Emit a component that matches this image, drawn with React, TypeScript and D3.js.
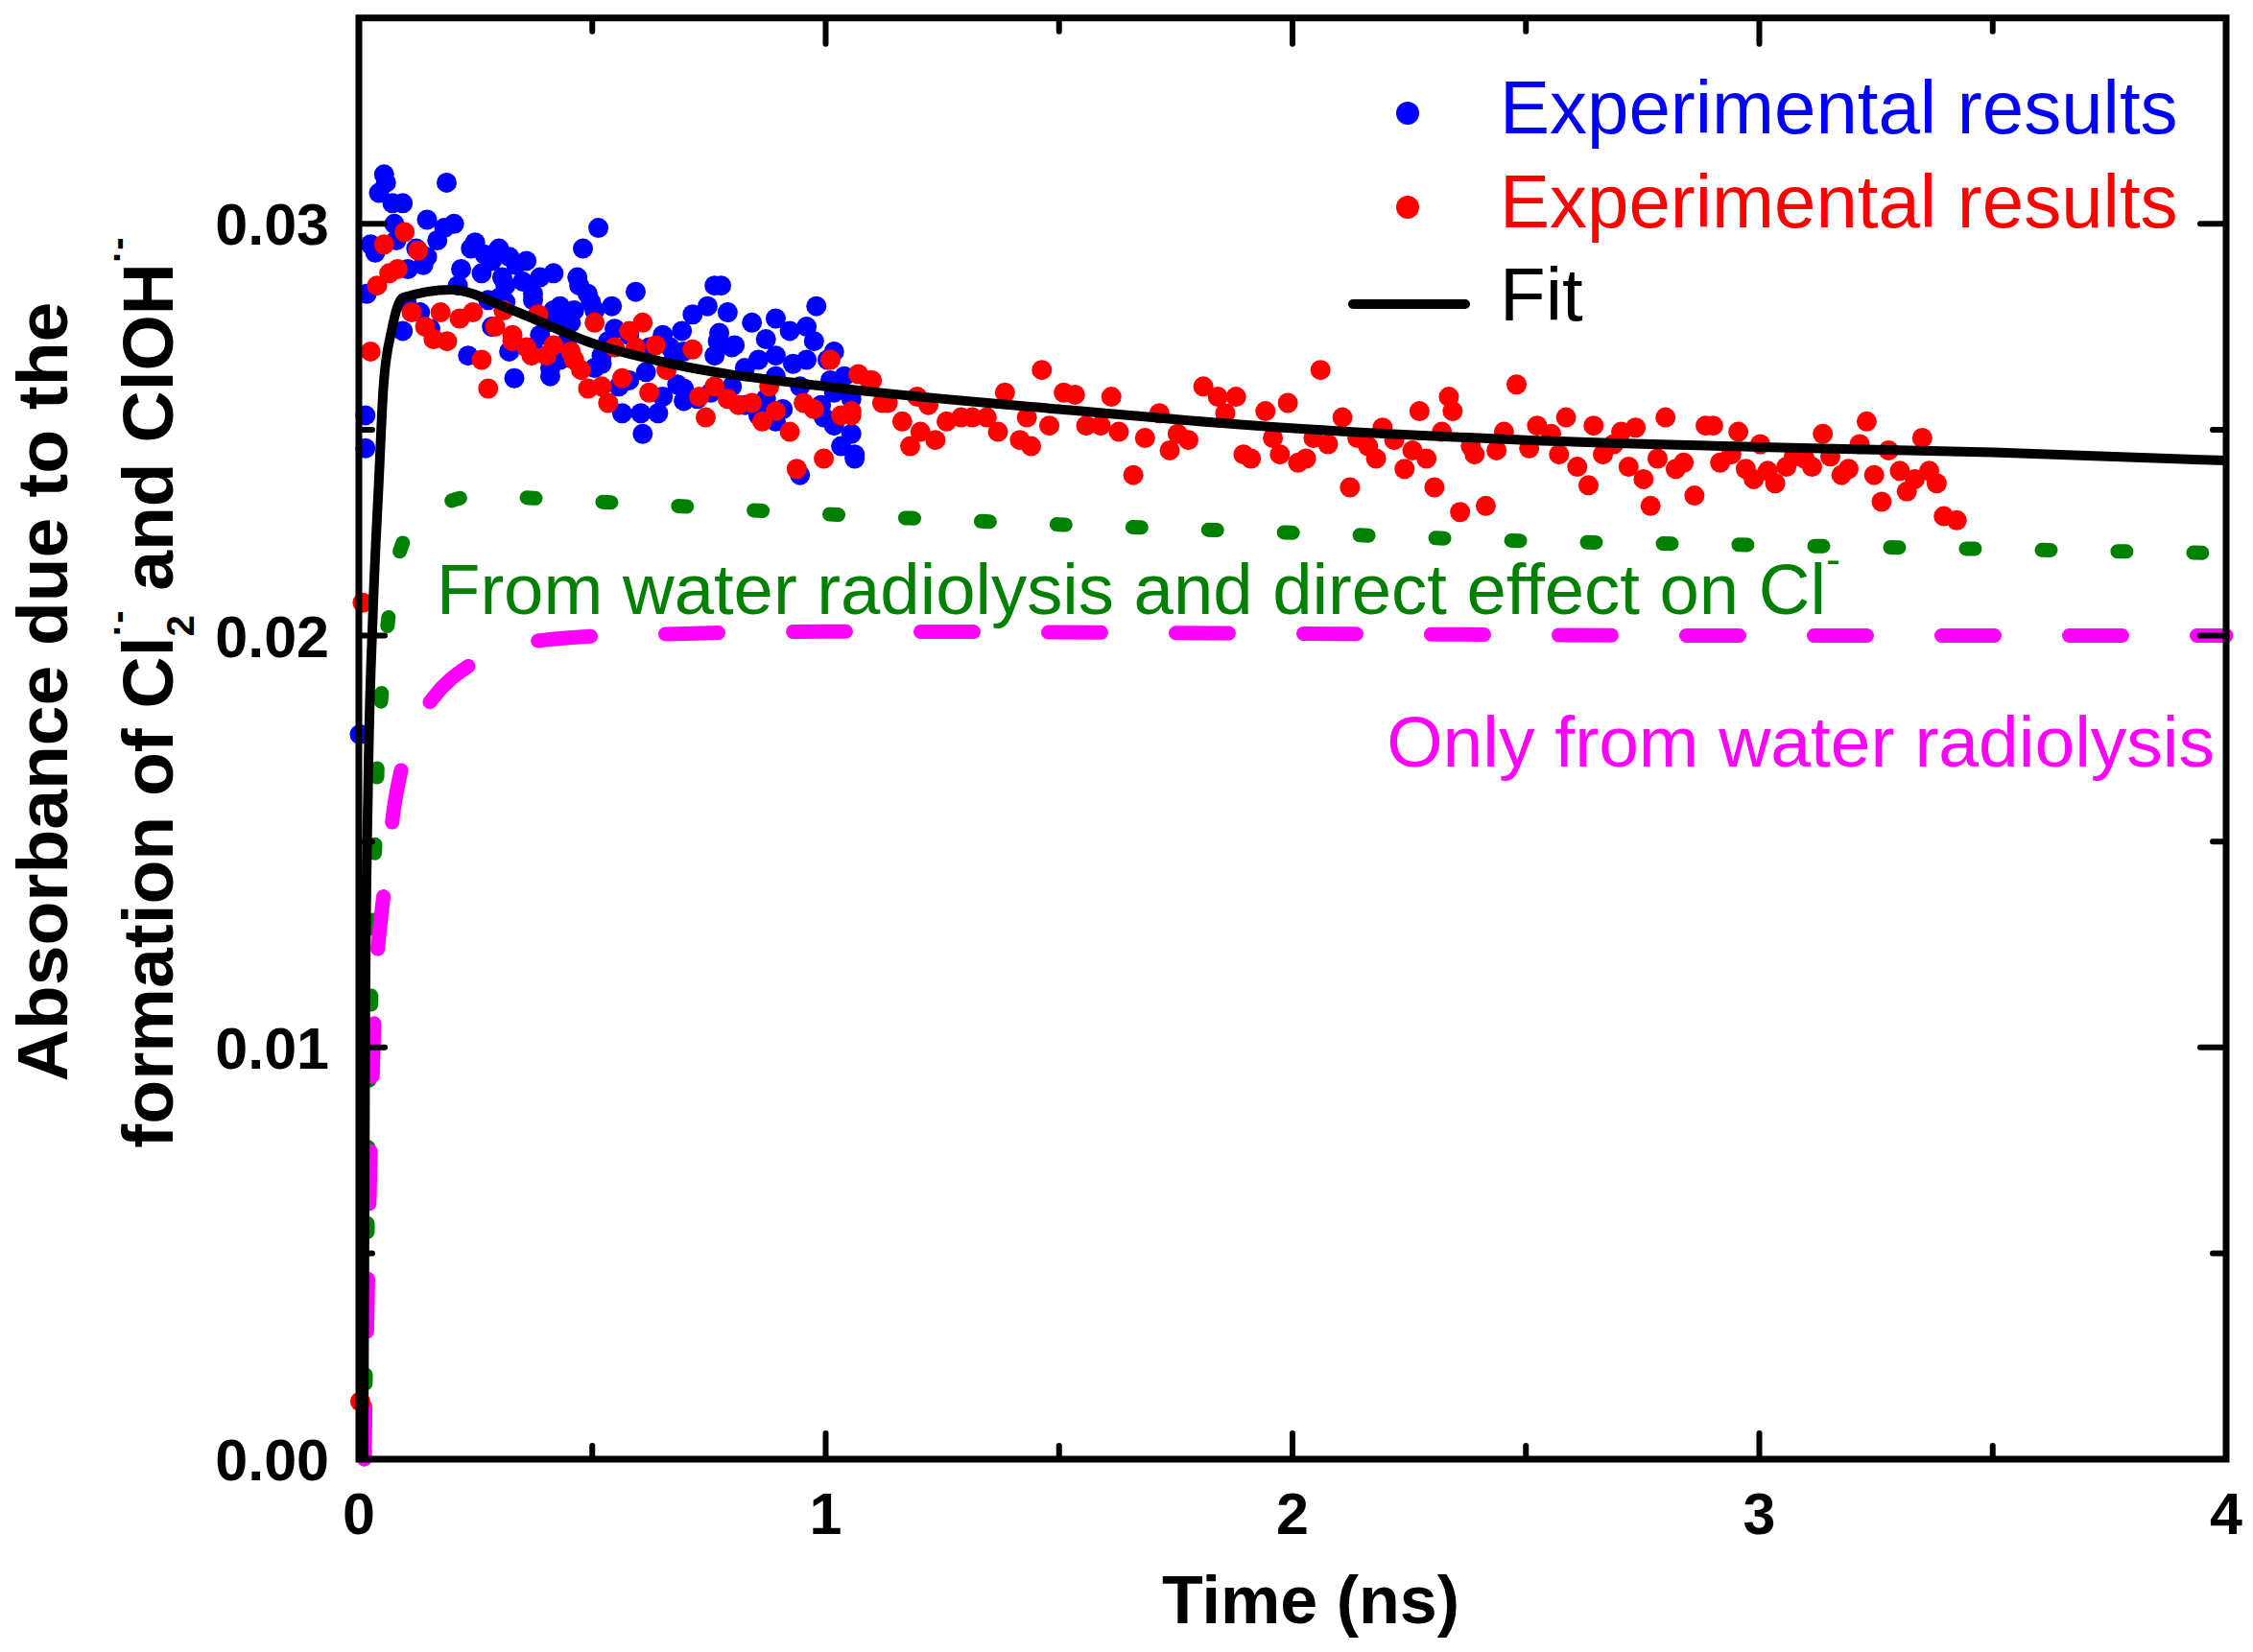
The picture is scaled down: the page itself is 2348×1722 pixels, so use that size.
import React from 'react';
import * as d3 from 'd3';

// time in ns, absorbance in units of 1e-3
const blueResults: [number, number][] = [
	[0.002, 17.6], [0.014, 25.35], [0.014, 24.55], [0.017, 28.3], [0.025, 29.5], [0.035, 29.3], [0.043, 30.75], [0.054, 31.2],
	[0.058, 31.0], [0.072, 30.5], [0.076, 30.0], [0.08, 29.6], [0.094, 30.5], [0.094, 27.4], [0.102, 28.1], [0.105, 28.9],
	[0.123, 29.4], [0.131, 27.85], [0.138, 29.0], [0.146, 30.1], [0.146, 29.2], [0.153, 27.45], [0.168, 29.6], [0.183, 29.9],
	[0.188, 31.0], [0.204, 30.0], [0.212, 28.5], [0.219, 28.9], [0.234, 26.8], [0.24, 29.4], [0.249, 29.55], [0.263, 28.8],
	[0.27, 29.25], [0.277, 28.15], [0.285, 29.1], [0.285, 27.5], [0.3, 29.4], [0.3, 28.2], [0.307, 28.7], [0.314, 28.5],
	[0.314, 28.1], [0.322, 29.2], [0.322, 26.9], [0.333, 26.25], [0.337, 29.0], [0.351, 28.6], [0.359, 29.1], [0.373, 28.15],
	[0.373, 28.3], [0.373, 27.0], [0.388, 28.7], [0.388, 27.3], [0.402, 27.6], [0.41, 26.5], [0.41, 26.3], [0.417, 28.8],
	[0.417, 27.9], [0.431, 28.0], [0.431, 26.7], [0.44, 27.7], [0.446, 27.15], [0.454, 27.6], [0.461, 27.9], [0.468, 28.7],
	[0.472, 28.5], [0.48, 29.4], [0.49, 28.3], [0.497, 28.1], [0.505, 27.9], [0.505, 26.5], [0.513, 29.9], [0.52, 26.8],
	[0.52, 26.6], [0.534, 27.15], [0.542, 28.0], [0.548, 27.45], [0.557, 26.05], [0.564, 25.4], [0.579, 27.3], [0.579, 26.2],
	[0.593, 28.35], [0.604, 25.4], [0.608, 24.9], [0.615, 26.4], [0.622, 27.0], [0.641, 25.4], [0.651, 27.3], [0.651, 25.8],
	[0.667, 27.0], [0.674, 26.7], [0.682, 26.1], [0.692, 27.4], [0.696, 26.9], [0.696, 26.0], [0.696, 25.7], [0.715, 27.8],
	[0.725, 25.75], [0.747, 28.0], [0.754, 25.9], [0.762, 28.5], [0.762, 26.8], [0.769, 27.15], [0.772, 27.35], [0.776, 28.5],
	[0.79, 27.85], [0.799, 27.0], [0.799, 26.05], [0.805, 27.05], [0.827, 26.5], [0.827, 25.6], [0.842, 27.6], [0.856, 26.7],
	[0.856, 25.35], [0.872, 27.2], [0.872, 25.75], [0.893, 27.7], [0.893, 26.8], [0.893, 26.3], [0.893, 25.2], [0.908, 25.5],
	[0.923, 27.4], [0.93, 26.6], [0.945, 26.05], [0.945, 23.9], [0.959, 27.5], [0.959, 26.7], [0.975, 27.15], [0.98, 28.0],
	[0.99, 25.6], [0.996, 25.3], [1.004, 26.7], [1.01, 26.2], [1.018, 26.9], [1.018, 25.9], [1.018, 25.1], [1.033, 24.6],
	[1.04, 26.3], [1.055, 25.75], [1.055, 24.9], [1.062, 24.4], [1.062, 24.3],
];

const redResults: [number, number][] = [
	[0.003, 1.4], [0.008, 20.8], [0.025, 26.9], [0.039, 28.5], [0.054, 29.5], [0.065, 28.8], [0.083, 28.9], [0.098, 29.8],
	[0.113, 27.85], [0.127, 29.35], [0.142, 27.5], [0.16, 27.2], [0.175, 27.85], [0.189, 27.15], [0.216, 27.7], [0.244, 27.85],
	[0.263, 26.7], [0.277, 26.0], [0.292, 27.5], [0.31, 27.9], [0.329, 27.3], [0.329, 27.15], [0.359, 27.0], [0.37, 26.8],
	[0.384, 27.8], [0.402, 26.8], [0.417, 27.05], [0.454, 26.9], [0.461, 26.7], [0.476, 26.45], [0.491, 26.0], [0.505, 27.6],
	[0.52, 26.05], [0.534, 25.65], [0.548, 27.0], [0.564, 26.25], [0.579, 27.4], [0.593, 27.0], [0.608, 27.6], [0.622, 25.9],
	[0.636, 27.05], [0.659, 26.45], [0.715, 26.95], [0.729, 25.8], [0.743, 25.3], [0.762, 26.05], [0.79, 25.75], [0.813, 25.6],
	[0.842, 25.65], [0.864, 25.2], [0.879, 26.05], [0.893, 25.45], [0.923, 24.95], [0.938, 24.05], [0.953, 25.65], [0.975, 25.5],
	[0.996, 24.3], [1.01, 26.7], [1.033, 25.35], [1.055, 25.45], [1.055, 25.35], [1.07, 26.35], [1.094, 26.2], [1.099, 26.2],
	[1.121, 25.65], [1.133, 25.65], [1.164, 25.2], [1.181, 24.6], [1.196, 25.8], [1.203, 24.95], [1.22, 25.6], [1.235, 24.75],
	[1.259, 25.2], [1.29, 25.3], [1.314, 25.3], [1.345, 25.3], [1.369, 24.95], [1.384, 25.9], [1.416, 24.75], [1.431, 25.3],
	[1.44, 24.6], [1.463, 26.45], [1.479, 25.1], [1.51, 25.9], [1.534, 25.85], [1.558, 25.1], [1.589, 25.1], [1.612, 25.8],
	[1.628, 24.95], [1.659, 23.9], [1.684, 24.8], [1.715, 25.4], [1.737, 24.5], [1.754, 24.9], [1.777, 24.75], [1.809, 26.05],
	[1.84, 25.8], [1.856, 25.4], [1.879, 25.8], [1.895, 24.4], [1.911, 24.3], [1.942, 25.45], [1.958, 24.8], [1.973, 24.4],
	[1.99, 25.65], [2.012, 24.2], [2.029, 24.3], [2.045, 24.8], [2.06, 26.45], [2.076, 24.65], [2.107, 25.3], [2.123, 23.6],
	[2.139, 24.8], [2.162, 24.6], [2.179, 24.3], [2.193, 25.05], [2.218, 24.75], [2.24, 24.05], [2.257, 24.5], [2.272, 25.45],
	[2.287, 24.3], [2.304, 23.6], [2.32, 24.95], [2.335, 25.8], [2.343, 25.45], [2.359, 23.0], [2.382, 24.6], [2.39, 24.4],
	[2.414, 23.15], [2.437, 24.5], [2.453, 24.95], [2.48, 26.1], [2.507, 24.55], [2.524, 25.1], [2.554, 24.9], [2.571, 24.4],
	[2.586, 25.3], [2.61, 24.1], [2.634, 23.65], [2.645, 25.1], [2.665, 24.4], [2.688, 24.65], [2.704, 24.95], [2.72, 24.1],
	[2.735, 25.05], [2.752, 23.8], [2.767, 23.15], [2.782, 24.3], [2.799, 25.3], [2.821, 24.05], [2.838, 24.2], [2.861, 23.4],
	[2.885, 25.1], [2.901, 25.1], [2.916, 24.2], [2.94, 24.4], [2.955, 24.95], [2.971, 24.05], [2.988, 23.8], [3.002, 24.65],
	[3.018, 24.0], [3.034, 23.7], [3.058, 24.1], [3.074, 24.35], [3.097, 24.3], [3.113, 24.1], [3.136, 24.9], [3.152, 24.35],
	[3.176, 23.9], [3.191, 24.05], [3.215, 24.65], [3.23, 25.2], [3.246, 23.9], [3.262, 23.25], [3.277, 24.5], [3.301, 24.0],
	[3.316, 23.5], [3.333, 23.8], [3.349, 24.8], [3.364, 24.0], [3.38, 23.7], [3.395, 22.9], [3.423, 22.8],
];

const fitCurve: [number, number][] = [
	[0.01, 0], [0.012, 5], [0.014, 11], [0.02, 16.5], [0.03, 20.5], [0.043, 23.8], [0.053, 26.1], [0.07, 27.4],
	[0.094, 28.2], [0.197, 28.4], [0.33, 27.9], [0.5, 27.1], [0.67, 26.6], [1.0, 26.05], [1.5, 25.5], [1.98, 25.05],
	[2.5, 24.75], [3.0, 24.58], [3.5, 24.45], [4.0, 24.25],
];

const waterAndDirect: [number, number][] = [
	[0.012, 0], [0.015, 2.5], [0.018, 5], [0.02, 7.5], [0.023, 9.5], [0.027, 11.5], [0.03, 13.3], [0.035, 15],
	[0.04, 16.9], [0.05, 18.8], [0.066, 20.7], [0.1, 22.4], [0.15, 23.0], [0.26, 23.4], [0.43, 23.3], [0.6, 23.2],
	[1.0, 22.95], [1.5, 22.7], [2.0, 22.5], [2.5, 22.3], [3.0, 22.2], [3.5, 22.1], [4.0, 22.0],
];

const waterOnly: [number, number][] = [
	[0.012, 0], [0.014, 1.4], [0.018, 3.5], [0.022, 6], [0.026, 8], [0.03, 9.6], [0.037, 11.8], [0.045, 12.9],
	[0.06, 14.3], [0.075, 15.8], [0.092, 16.8], [0.12, 17.8], [0.16, 18.5], [0.24, 19.3], [0.32, 19.7], [0.45, 19.95],
	[0.7, 20.05], [1.0, 20.1], [2.0, 20.05], [3.0, 20.0], [4.0, 20.0],
];

const xTicks = [0, 1, 2, 3, 4];
const xMinorTicks = [0.5, 1.5, 2.5, 3.5];
const yTicks = [0, 10, 20, 30];
const yMinorTicks = [5, 15, 25];

const font = 'Liberation Sans, Arial, sans-serif';

export default function App() {
	const x = d3.scaleLinear().domain([0, 4]).range([374, 2320]);
	const y = d3.scaleLinear().domain([0, 35]).range([1521, 18.7]);

	const line = d3.line<[number, number]>()
		.x(d => x(d[0]))
		.y(d => y(d[1]))
		.curve(d3.curveMonotoneX);

	const [x0, x1] = x.range();
	const [y0, y1] = y.range();
	const major = 27;
	const minor = 14;

	return (
		<svg width={2348} height={1722} style={{ position: 'absolute', left: 0, top: 0, background: '#fff' }}>
			<rect x={0} y={0} width={2348} height={1722} fill="#fff" />

			<path d={line(waterAndDirect) || ''} fill="none" stroke="#008000" strokeWidth={15}
				strokeLinecap="round" strokeDasharray="9 70" />
			<path d={line(waterOnly) || ''} fill="none" stroke="#FF00FF" strokeWidth={15}
				strokeLinecap="round" strokeDasharray="55 78" />

			{blueResults.map((d, i) => (
				<circle key={'b' + i} cx={x(d[0])} cy={y(d[1])} r={10.5} fill="#0000FF" />
			))}
			{redResults.map((d, i) => (
				<circle key={'r' + i} cx={x(d[0])} cy={y(d[1])} r={10.5} fill="#FF0000" />
			))}

			<path d={line(fitCurve) || ''} fill="none" stroke="#000" strokeWidth={10} strokeLinejoin="round" />

			{/* frame and ticks */}
			<g stroke="#000" strokeWidth={6} strokeLinecap="round">
				{xTicks.slice(1, -1).map(t => (
					<g key={'xt' + t}>
						<line x1={x(t)} x2={x(t)} y1={y0} y2={y0 - major} />
						<line x1={x(t)} x2={x(t)} y1={y1} y2={y1 + major} />
					</g>
				))}
				{xMinorTicks.map(t => (
					<g key={'xm' + t}>
						<line x1={x(t)} x2={x(t)} y1={y0} y2={y0 - minor} />
						<line x1={x(t)} x2={x(t)} y1={y1} y2={y1 + minor} />
					</g>
				))}
				{yTicks.slice(1).map(t => (
					<g key={'yt' + t}>
						<line x1={x0} x2={x0 + major} y1={y(t)} y2={y(t)} />
						<line x1={x1} x2={x1 - major} y1={y(t)} y2={y(t)} />
					</g>
				))}
				{yMinorTicks.map(t => (
					<g key={'ym' + t}>
						<line x1={x0} x2={x0 + minor} y1={y(t)} y2={y(t)} />
						<line x1={x1} x2={x1 - minor} y1={y(t)} y2={y(t)} />
					</g>
				))}
			</g>
			<rect x={x0} y={y1} width={x1 - x0} height={y0 - y1} fill="none" stroke="#000" strokeWidth={7} />

			{/* tick labels */}
			<g fontFamily={font} fontWeight="bold" fontSize={61} fill="#000">
				{xTicks.map(t => (
					<text key={'xl' + t} x={x(t)} y={1599} textAnchor="middle">{t}</text>
				))}
				{yTicks.map(t => (
					<text key={'yl' + t} x={343} y={y(t)} dy="0.36em" textAnchor="end">{(t / 1000).toFixed(2)}</text>
				))}
			</g>

			{/* axis titles */}
			<text x={1366} y={1692} textAnchor="middle" fontFamily={font} fontWeight="bold" fontSize={70}>Time (ns)</text>
			<g fontFamily={font} fontWeight="bold" fontSize={75}>
				<text transform="translate(70,721) rotate(-90)" textAnchor="middle">Absorbance due to the</text>
				<text transform="translate(180,722) rotate(-90)" textAnchor="middle">
					formation of Cl
					<tspan fontSize={40} dy={22}>2</tspan>
					<tspan fontSize={40} dx={-22} dy={-66}>·-</tspan>
					<tspan dy={44}> and ClOH</tspan>
					<tspan fontSize={40} dy={-44}>·-</tspan>
				</text>
			</g>

			{/* legend */}
			<g fontFamily={font} fontSize={78}>
				<circle cx={1467} cy={118} r={12} fill="#0000FF" />
				<text x={1563} y={139} fill="#0000FF">Experimental results</text>
				<circle cx={1467} cy={216} r={12} fill="#FF0000" />
				<text x={1563} y={237} fill="#FF0000">Experimental results</text>
				<line x1={1410} x2={1527} y1={317} y2={317} stroke="#000" strokeWidth={10} strokeLinecap="round" />
				<text x={1563} y={334} fill="#000">Fit</text>
			</g>

			{/* curve annotations */}
			<g fontFamily={font} fontSize={74.3}>
				<text x={455} y={640} fill="#008000">
					From water radiolysis and direct effect on Cl
					<tspan fontSize={45} dy={-42}>-</tspan>
				</text>
				<text x={2308} y={799} fill="#FF00FF" textAnchor="end" fontSize={75}>Only from water radiolysis</text>
			</g>
		</svg>
	);
}
